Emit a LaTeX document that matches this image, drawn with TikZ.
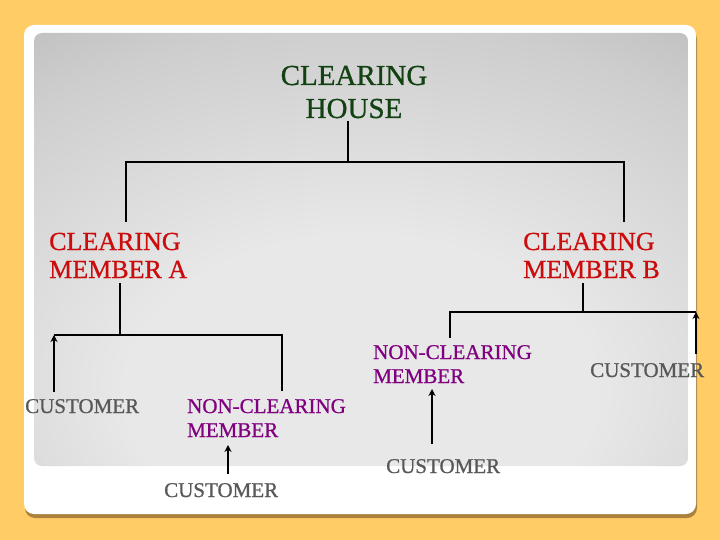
\documentclass[tikz,border=0pt]{standalone}
\usepackage{fontspec}
\setmainfont{Liberation Serif}
\newfontfamily\heavyfont{Liberation Serif}[FakeBold=0.8]
\usetikzlibrary{arrows.meta}
\definecolor{bgorange}{RGB}{255,204,102}
\definecolor{shadowbrown}{RGB}{170,130,60}
\definecolor{titlegreen}{RGB}{18,66,18}
\definecolor{memred}{RGB}{204,12,12}
\definecolor{ncpurple}{RGB}{128,0,128}
\definecolor{custgrey}{RGB}{88,88,88}
\definecolor{panelin}{RGB}{232,232,232}
\definecolor{panelmid}{RGB}{206,206,206}
\definecolor{panelout}{RGB}{170,170,170}
\definecolor{panelcorner}{RGB}{160,160,160}
\pgfdeclareradialshading{panelshade}{\pgfpoint{0bp}{-20bp}}{%
  color(0bp)=(panelin); color(18bp)=(panelin); color(38bp)=(panelmid); color(56bp)=(panelout); color(100bp)=(panelcorner)}
\tikzset{
  lbl/.style={inner sep=0pt, anchor=base west, align=left},
  titletxt/.style={lbl, font=\heavyfont\fontsize{29}{33}\selectfont, text=titlegreen, align=center, anchor=base},
  memtxt/.style={lbl, font=\heavyfont\fontsize{26}{28}\selectfont, text=memred},
  nctxt/.style={lbl, font=\heavyfont\fontsize{21}{24}\selectfont, text=ncpurple},
  custtxt/.style={lbl, font=\heavyfont\fontsize{21}{24}\selectfont, text=custgrey},
  conn/.style={draw=black, line width=1.3pt},
  uparrow/.style={draw=black, line width=2.6pt, -{Stealth[length=7pt,width=7pt]}}
}
\begin{document}
\begin{tikzpicture}[x=1pt,y=-1pt]
\useasboundingbox (0,0) rectangle (720,540);
\fill[bgorange] (0,0) rectangle (720,540);
% card shadow and card
\fill[shadowbrown, rounded corners=10pt] (25,29) rectangle (697,518);
\fill[white, rounded corners=10pt] (24,25) rectangle (696,514);
% grey panel
\shade[rounded corners=8pt, shading=panelshade] (34,33) rectangle (688,466);

% texts (base anchor = baseline of the last line)
\node[titletxt] (ch) at (354,118) {CLEARING\\HOUSE};
\node[memtxt] (cma) at (49,278) {CLEARING\\MEMBER A};
\node[memtxt] (cmb) at (523,278) {CLEARING\\MEMBER B};
\node[custtxt] (c1) at (25,413) {CUSTOMER};
\node[nctxt] (nca) at (187,437) {NON-CLEARING\\MEMBER};
\node[custtxt] (c2) at (164,497) {CUSTOMER};
\node[nctxt] (ncb) at (373,383) {NON-CLEARING\\MEMBER};
\node[custtxt] (c3) at (386,473) {CUSTOMER};
\node[custtxt] (c4) at (590,377) {CUSTOMER};

% junction coordinates
\coordinate (chb) at (348,121);
\coordinate (t1) at (348,162);
\coordinate (tl) at (126,162);
\coordinate (tr) at (624,162);
\coordinate (tlb) at (126,222);
\coordinate (trb) at (624,222);
\coordinate (ab) at (120,283);
\coordinate (aj) at (120,335);
\coordinate (al) at (54,335);
\coordinate (ar) at (282,335);
\coordinate (arb) at (282,391);
\coordinate (c1t) at (54,392);
\coordinate (bb) at (583,283);
\coordinate (bj) at (583,312);
\coordinate (bl) at (450,312);
\coordinate (br) at (696,312);
\coordinate (blb) at (450,338);
\coordinate (c4t) at (696,354);
\coordinate (c2t) at (228,474);
\coordinate (ncat) at (228,445);
\coordinate (c3t) at (432,444);
\coordinate (ncbt) at (432,389);

% connectors
\draw[conn] (chb) -- (t1);
\draw[conn] (tlb) -- (tl) -- (tr) -- (trb);
\draw[conn] (ab) -- (aj);
\draw[conn] (al) -- (ar) -- (arb);
\draw[uparrow] (c1t) -- (al);
\draw[conn] (bb) -- (bj);
\draw[conn] (blb) -- (bl) -- (br);
\draw[uparrow] (c4t) -- (br);
\draw[uparrow] (c2t) -- (ncat);
\draw[uparrow] (c3t) -- (ncbt);
\end{tikzpicture}
\end{document}
